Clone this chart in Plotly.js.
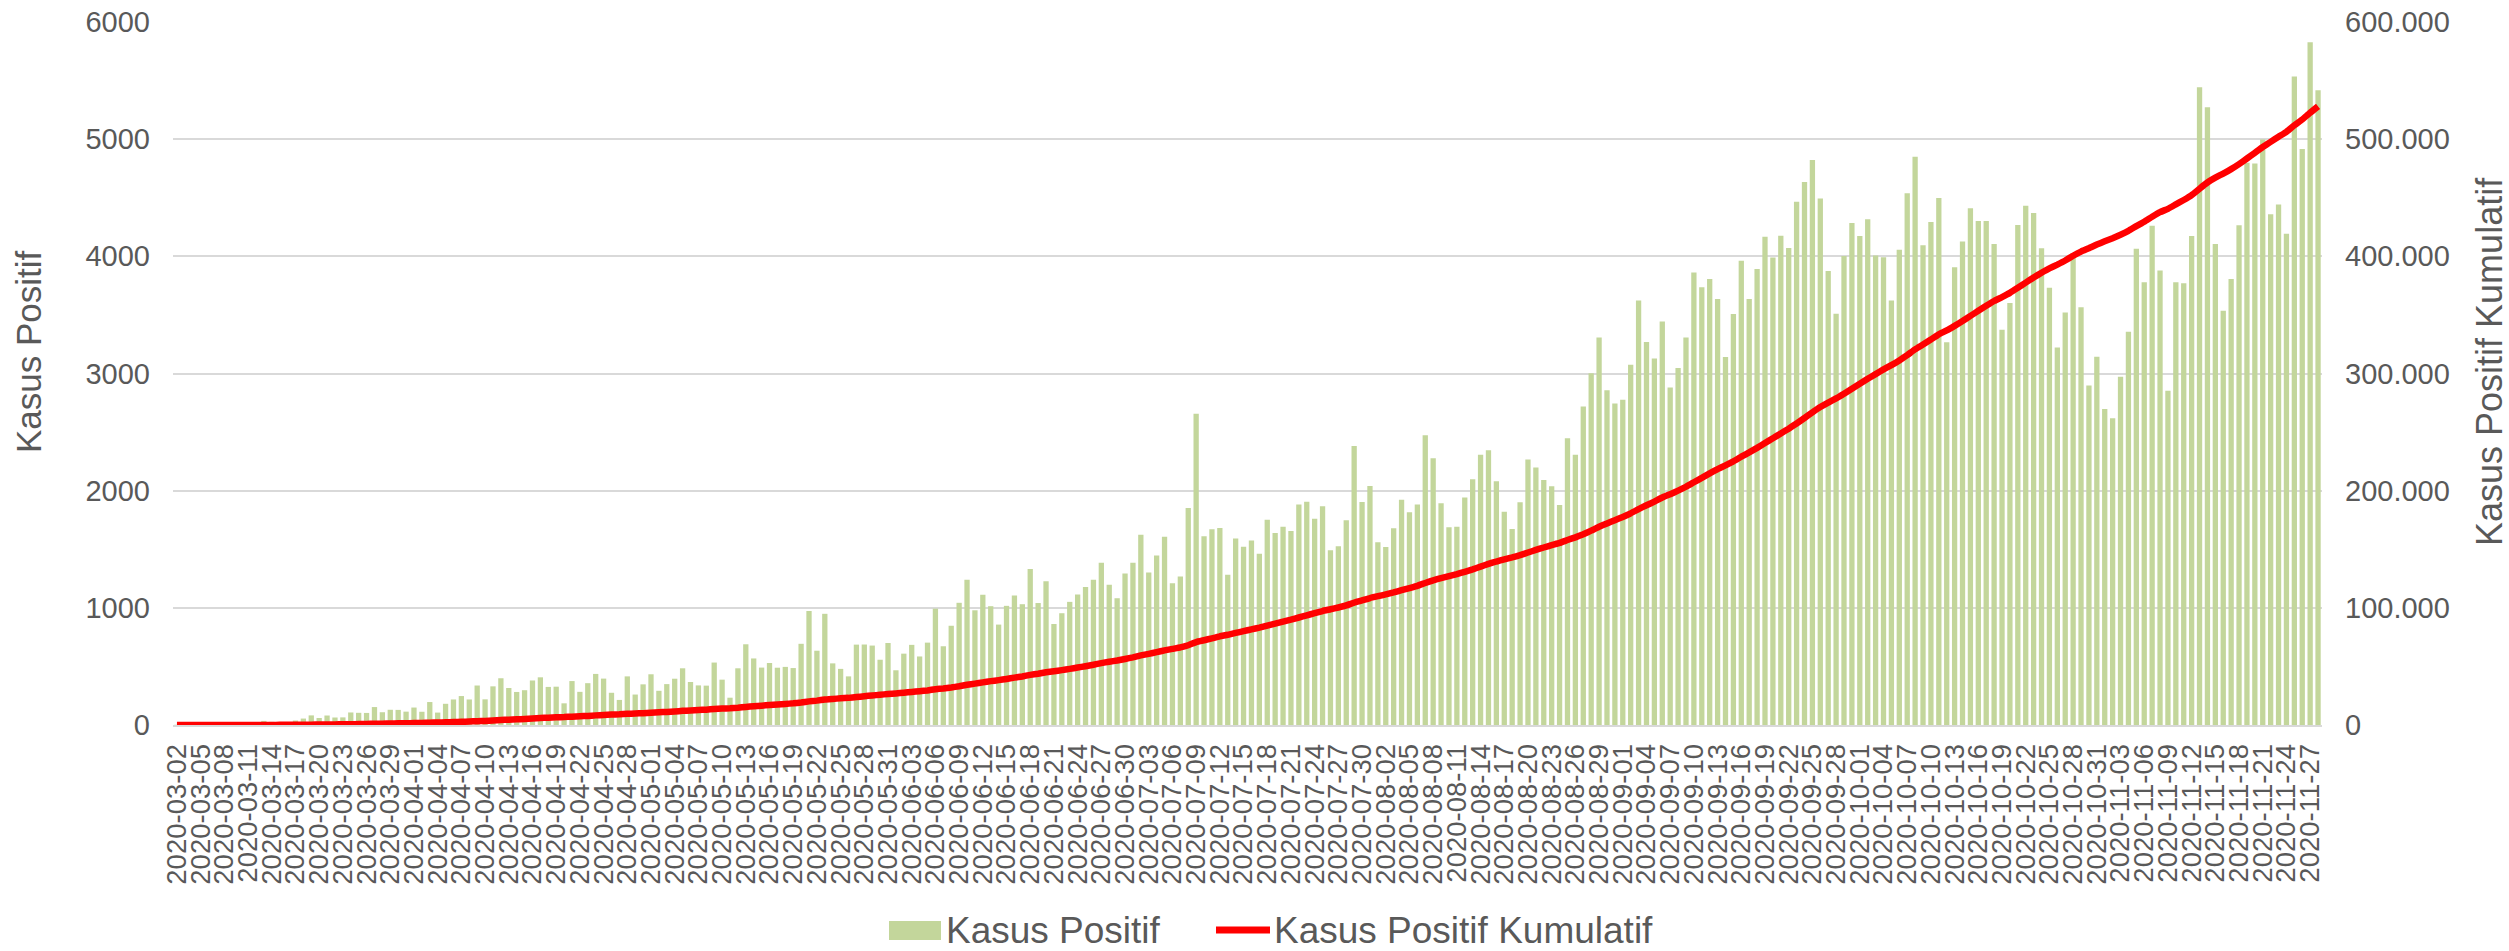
<!DOCTYPE html>
<html>
<head>
<meta charset="utf-8">
<script src="https://cdn.plot.ly/plotly-3.0.1.min.js"></script>
<style>html,body{margin:0;padding:0;background:#fff;}#chart{width:2509px;height:951px;}</style>
</head>
<body>
<div id="chart"></div>
<script>
// Categories: dates 2020-03-02 .. 2020-11-28
const categories = [
"2020-03-02","2020-03-03","2020-03-04","2020-03-05","2020-03-06","2020-03-07","2020-03-08","2020-03-09","2020-03-10","2020-03-11","2020-03-12","2020-03-13","2020-03-14","2020-03-15","2020-03-16","2020-03-17","2020-03-18","2020-03-19","2020-03-20","2020-03-21","2020-03-22","2020-03-23","2020-03-24","2020-03-25","2020-03-26","2020-03-27","2020-03-28","2020-03-29","2020-03-30","2020-03-31",
"2020-04-01","2020-04-02","2020-04-03","2020-04-04","2020-04-05","2020-04-06","2020-04-07","2020-04-08","2020-04-09","2020-04-10","2020-04-11","2020-04-12","2020-04-13","2020-04-14","2020-04-15","2020-04-16","2020-04-17","2020-04-18","2020-04-19","2020-04-20","2020-04-21","2020-04-22","2020-04-23","2020-04-24","2020-04-25","2020-04-26","2020-04-27","2020-04-28","2020-04-29","2020-04-30",
"2020-05-01","2020-05-02","2020-05-03","2020-05-04","2020-05-05","2020-05-06","2020-05-07","2020-05-08","2020-05-09","2020-05-10","2020-05-11","2020-05-12","2020-05-13","2020-05-14","2020-05-15","2020-05-16","2020-05-17","2020-05-18","2020-05-19","2020-05-20","2020-05-21","2020-05-22","2020-05-23","2020-05-24","2020-05-25","2020-05-26","2020-05-27","2020-05-28","2020-05-29","2020-05-30","2020-05-31",
"2020-06-01","2020-06-02","2020-06-03","2020-06-04","2020-06-05","2020-06-06","2020-06-07","2020-06-08","2020-06-09","2020-06-10","2020-06-11","2020-06-12","2020-06-13","2020-06-14","2020-06-15","2020-06-16","2020-06-17","2020-06-18","2020-06-19","2020-06-20","2020-06-21","2020-06-22","2020-06-23","2020-06-24","2020-06-25","2020-06-26","2020-06-27","2020-06-28","2020-06-29","2020-06-30",
"2020-07-01","2020-07-02","2020-07-03","2020-07-04","2020-07-05","2020-07-06","2020-07-07","2020-07-08","2020-07-09","2020-07-10","2020-07-11","2020-07-12","2020-07-13","2020-07-14","2020-07-15","2020-07-16","2020-07-17","2020-07-18","2020-07-19","2020-07-20","2020-07-21","2020-07-22","2020-07-23","2020-07-24","2020-07-25","2020-07-26","2020-07-27","2020-07-28","2020-07-29","2020-07-30","2020-07-31",
"2020-08-01","2020-08-02","2020-08-03","2020-08-04","2020-08-05","2020-08-06","2020-08-07","2020-08-08","2020-08-09","2020-08-10","2020-08-11","2020-08-12","2020-08-13","2020-08-14","2020-08-15","2020-08-16","2020-08-17","2020-08-18","2020-08-19","2020-08-20","2020-08-21","2020-08-22","2020-08-23","2020-08-24","2020-08-25","2020-08-26","2020-08-27","2020-08-28","2020-08-29","2020-08-30","2020-08-31",
"2020-09-01","2020-09-02","2020-09-03","2020-09-04","2020-09-05","2020-09-06","2020-09-07","2020-09-08","2020-09-09","2020-09-10","2020-09-11","2020-09-12","2020-09-13","2020-09-14","2020-09-15","2020-09-16","2020-09-17","2020-09-18","2020-09-19","2020-09-20","2020-09-21","2020-09-22","2020-09-23","2020-09-24","2020-09-25","2020-09-26","2020-09-27","2020-09-28","2020-09-29","2020-09-30",
"2020-10-01","2020-10-02","2020-10-03","2020-10-04","2020-10-05","2020-10-06","2020-10-07","2020-10-08","2020-10-09","2020-10-10","2020-10-11","2020-10-12","2020-10-13","2020-10-14","2020-10-15","2020-10-16","2020-10-17","2020-10-18","2020-10-19","2020-10-20","2020-10-21","2020-10-22","2020-10-23","2020-10-24","2020-10-25","2020-10-26","2020-10-27","2020-10-28","2020-10-29","2020-10-30","2020-10-31",
"2020-11-01","2020-11-02","2020-11-03","2020-11-04","2020-11-05","2020-11-06","2020-11-07","2020-11-08","2020-11-09","2020-11-10","2020-11-11","2020-11-12","2020-11-13","2020-11-14","2020-11-15","2020-11-16","2020-11-17","2020-11-18","2020-11-19","2020-11-20","2020-11-21","2020-11-22","2020-11-23","2020-11-24","2020-11-25","2020-11-26","2020-11-27","2020-11-28"
];

// Daily positive cases (left axis)
const kasusPositif = [
2,0,0,0,2,0,2,13,8,7,0,35,27,21,17,38,55,82,60,81,64,65,107,104,103,153,109,130,129,114,
149,113,196,106,181,218,247,218,337,219,330,399,316,282,297,380,407,325,327,185,375,283,357,436,396,275,214,415,260,347,
433,292,349,395,484,367,338,336,533,387,233,484,689,568,490,529,489,496,486,693,973,634,949,526,479,415,686,687,678,557,700,
467,609,684,585,703,993,672,847,1043,1240,979,1111,1014,857,1017,1106,1031,1331,1041,1226,862,954,1051,1113,1178,1240,1385,1198,1082,1293,
1385,1624,1301,1447,1607,1209,1268,1853,2657,1611,1671,1681,1282,1591,1522,1574,1462,1752,1639,1693,1655,1882,1906,1761,1868,1492,1525,1748,2381,1904,2040,
1560,1519,1679,1922,1815,1882,2473,2277,1893,1687,1693,1942,2098,2307,2345,2081,1821,1673,1902,2266,2197,2090,2037,1877,2447,2306,2719,3003,3308,2858,2743,
2775,3075,3622,3269,3128,3444,2880,3046,3307,3861,3737,3806,3636,3141,3507,3963,3635,3891,4168,3989,4176,4071,4465,4634,4823,4494,3874,3509,4002,4284,
4174,4317,4007,3992,3622,4056,4538,4850,4094,4294,4497,3267,3906,4127,4411,4301,4301,4105,3373,3602,4267,4432,4369,4070,3732,3222,3520,4029,3565,2897,3143,
2696,2618,2973,3356,4065,3778,4262,3880,2853,3779,3770,4173,5444,5272,4106,3535,3807,4265,4798,4792,4998,4360,4442,4192,5534,4917,5828,5418
];

// Cumulative positive cases (right axis)
const kasusKumulatif = [
2,2,2,2,4,4,6,19,27,34,34,69,96,117,134,172,227,309,369,450,514,579,686,790,893,1046,1155,1285,1414,1528,
1677,1790,1986,2092,2273,2491,2738,2956,3293,3512,3842,4241,4557,4839,5136,5516,5923,6248,6575,6760,7135,7418,7775,8211,8607,8882,9096,9511,9771,10118,
10551,10843,11192,11587,12071,12438,12776,13112,13645,14032,14265,14749,15438,16006,16496,17025,17514,18010,18496,19189,20162,20796,21745,22271,22750,23165,23851,24538,25216,25773,26473,
26940,27549,28233,28818,29521,30514,31186,32033,33076,34316,35295,36406,37420,38277,39294,40400,41431,42762,43803,45029,45891,46845,47896,49009,50187,51427,52812,54010,55092,56385,
57770,59394,60695,62142,63749,64958,66226,68079,70736,72347,74018,75699,76981,78572,80094,81668,83130,84882,86521,88214,89869,91751,93657,95418,97286,98778,100303,102051,104432,106336,108376,
109936,111455,113134,115056,116871,118753,121226,123503,125396,127083,128776,130718,132816,135123,137468,139549,141370,143043,144945,147211,149408,151498,153535,155412,157859,160165,162884,165887,169195,172053,174796,
177571,180646,184268,187537,190665,194109,196989,200035,203342,207203,210940,214746,218382,221523,225030,228993,232628,236519,240687,244676,248852,252923,257388,262022,266845,271339,275213,278722,282724,287008,
291182,295499,299506,303498,307120,311176,315714,320564,324658,328952,333449,336716,340622,344749,349160,353461,357762,361867,365240,368842,373109,377541,381910,385980,389712,392934,396454,400483,404048,406945,410088,
412784,415402,418375,421731,425796,429574,433836,437716,440569,444348,448118,452291,457735,463007,467113,470648,474455,478720,483518,488310,493308,497668,502110,506302,511836,516753,522581,527999
];

// Tick labels shown on the x axis (every third date)
const tickLabels = categories.filter((d, i) => i % 3 === 0);

const seriesNames = ["Kasus Positif", "Kasus Positif Kumulatif"];
const axisTitles = ["Kasus Positif", "Kasus Positif Kumulatif"];

const FONT = '"Liberation Sans", Arial, sans-serif';
const GREY = '#595959';
const GREEN = '#C3D69B';
const RED = '#FF0000';

const traces = [
  {
    type: 'bar', name: seriesNames[0], x: categories, y: kasusPositif,
    marker: {color: GREEN, line: {width: 0}}, yaxis: 'y', hoverinfo: 'x+y'
  },
  {
    type: 'scatter', mode: 'lines', name: seriesNames[1], x: categories, y: kasusKumulatif,
    line: {color: RED, width: 6.5, shape: 'spline', smoothing: 0.3}, yaxis: 'y2', hoverinfo: 'x+y'
  }
];

const L = 173, R = 2322, T = 22, B = 725;
const px = v => (v - L) / (R - L);
const py = v => (B - v) / (B - T);

const layout = {
  width: 2509, height: 951,
  margin: {l: L, r: 2509 - R, t: T, b: 951 - B, pad: 0},
  paper_bgcolor: '#fff', plot_bgcolor: '#fff',
  separators: ',.',
  showlegend: false,
  bargap: 0.33,
  font: {family: FONT, color: GREY, size: 29},
  xaxis: {
    type: 'category', tickmode: 'array', tickvals: tickLabels, ticktext: tickLabels,
    tickangle: -90, tickfont: {family: FONT, size: 27.5, color: GREY},
    showline: true, linecolor: '#d9d9d9', linewidth: 2, ticks: '', showgrid: false,
    ticklabelstandoff: 6, automargin: false, fixedrange: true
  },
  yaxis: {
    range: [0, 6000], dtick: 1000, tick0: 0, tickformat: 'd',
    showgrid: true, gridcolor: '#d9d9d9', gridwidth: 2, zeroline: false,
    tickfont: {family: FONT, size: 29, color: GREY}, ticks: '', ticklabelstandoff: 22,
    automargin: false, fixedrange: true
  },
  yaxis2: {
    range: [0, 600000], dtick: 100000, tick0: 0, tickformat: ',d',
    overlaying: 'y', side: 'right', showgrid: false, zeroline: false,
    tickfont: {family: FONT, size: 29, color: GREY}, ticks: '', ticklabelstandoff: 22,
    automargin: false, fixedrange: true
  },
  shapes: [
    {type: 'rect', xref: 'paper', yref: 'paper', x0: px(889), x1: px(941), y0: py(940), y1: py(921),
     fillcolor: GREEN, line: {width: 0}},
    {type: 'line', xref: 'paper', yref: 'paper', x0: px(1216), x1: px(1270), y0: py(930), y1: py(930),
     line: {color: RED, width: 7}}
  ],
  annotations: [
    {xref: 'paper', yref: 'paper', x: px(29), y: py(352), xanchor: 'center', yanchor: 'middle', textangle: -90,
     text: axisTitles[0], showarrow: false, font: {family: FONT, size: 35, color: GREY}},
    {xref: 'paper', yref: 'paper', x: px(2489), y: py(362), xanchor: 'center', yanchor: 'middle', textangle: -90,
     text: axisTitles[1], showarrow: false, font: {family: FONT, size: 36, color: GREY}},
    {xref: 'paper', yref: 'paper', x: px(944), y: py(930), xanchor: 'left', yanchor: 'middle',
     text: seriesNames[0], showarrow: false, font: {family: FONT, size: 37, color: GREY}},
    {xref: 'paper', yref: 'paper', x: px(1272), y: py(930), xanchor: 'left', yanchor: 'middle',
     text: seriesNames[1], showarrow: false, font: {family: FONT, size: 37, color: GREY}}
  ]
};

Plotly.newPlot('chart', traces, layout, {staticPlot: true, displayModeBar: false});
</script>
</body>
</html>
